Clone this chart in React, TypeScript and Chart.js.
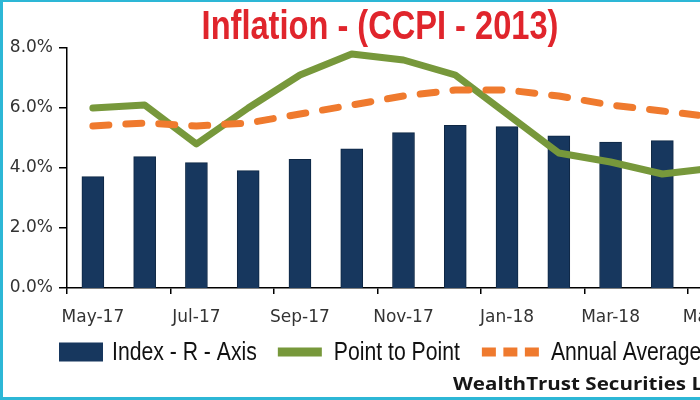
import React, { useEffect, useRef } from 'react';
import { Chart, registerables } from 'chart.js';

Chart.register(...registerables);

// ---- data ----
const categories = [
  'May-17', 'Jun-17', 'Jul-17', 'Aug-17', 'Sep-17', 'Oct-17', 'Nov-17',
  'Dec-17', 'Jan-18', 'Feb-18', 'Mar-18', 'Apr-18', 'May-18',
];
const indexValues = [3.71, 4.38, 4.18, 3.91, 4.29, 4.64, 5.18, 5.42, 5.38, 5.07, 4.86, 4.91, null];
const pointToPoint = [6.0, 6.1, 4.8, 6.0, 7.1, 7.8, 7.6, 7.1, 5.8, 4.5, 4.2, 3.8, 4.0];
const annualAverage = [5.4, 5.5, 5.4, 5.5, 5.8, 6.1, 6.4, 6.6, 6.6, 6.4, 6.1, 5.9, 5.7];
const yTickValues = [0, 2, 4, 6, 8];

const TITLE = 'Inflation - (CCPI - 2013)';
const SERIES_NAMES = ['Index - R - Axis', 'Point to Point', 'Annual Average'];
const SOURCE = 'WealthTrust Securities Limited';

// ---- styles ----
const NAVY = '#17375E';
const NAVY_EDGE = '#0E2744';
const GREEN = '#77983B';
const ORANGE = '#EF7A2E';
const RED = '#E0252C';
const CYAN = '#2DB7D6';
const CW = 760;
const CH = 400;
const SANS = "'Liberation Sans', Arial, sans-serif";
const TICK_FONT = "'DejaVu Sans', Verdana, sans-serif";
const NARROW_X = 0.815;

function scaledText(
  ctx: CanvasRenderingContext2D,
  text: string,
  x: number,
  y: number,
  sx: number,
  align: 'left' | 'center',
) {
  const w = ctx.measureText(text).width * sx;
  const left = align === 'center' ? x - w / 2 : x;
  ctx.save();
  ctx.translate(left, y);
  ctx.scale(sx, 1);
  ctx.textAlign = 'left';
  ctx.fillText(text, 0, 0);
  ctx.restore();
  return w;
}

const decorPlugin = {
  id: 'decor',
  afterDraw(chart: any) {
    const ctx = chart.ctx as CanvasRenderingContext2D;
    ctx.save();
    // title
    ctx.font = `bold 40px ${SANS}`;
    ctx.fillStyle = RED;
    ctx.textBaseline = 'alphabetic';
    scaledText(ctx, TITLE, CW / 2, 39, NARROW_X, 'center');

    // legend
    ctx.font = `26px ${SANS}`;
    ctx.textBaseline = 'middle';
    const cy = 352;
    let x = 59;
    const symWidths = [44, 44, 58];
    for (let i = 0; i < SERIES_NAMES.length; i++) {
      const symW = symWidths[i];
      if (i === 0) {
        ctx.fillStyle = NAVY;
        ctx.fillRect(x, cy - 9.5, symW, 19);
      } else if (i === 1) {
        ctx.fillStyle = GREEN;
        ctx.fillRect(x, cy - 4.5, symW, 9);
      } else {
        ctx.fillStyle = ORANGE;
        for (let k = 0; k < 3; k++) {
          ctx.fillRect(x + 1 + k * 21.5, cy - 4.5, 14, 9);
        }
      }
      x += symW + (i === 0 ? 9 : 12);
      ctx.fillStyle = '#111111';
      const w = scaledText(ctx, SERIES_NAMES[i], x, cy + 1, NARROW_X, 'left');
      x += w + 21;
    }

    // source
    ctx.font = `bold 18px 'Open Sans', Lato, sans-serif`;
    ctx.fillStyle = '#161616';
    ctx.textBaseline = 'alphabetic';
    const partW = ctx.measureText('WealthTrust Securities L').width;
    scaledText(ctx, SOURCE, 453, 390, 250 / partW, 'left');
    ctx.restore();
  },
};

export default function App() {
  const ref = useRef<HTMLCanvasElement | null>(null);

  useEffect(() => {
    if (!ref.current) return;
    const chart = new Chart(ref.current, {
      type: 'bar',
      data: {
        labels: categories,
        datasets: [
          {
            type: 'bar',
            label: SERIES_NAMES[0],
            data: indexValues,
            backgroundColor: NAVY,
            borderColor: NAVY_EDGE,
            borderWidth: 1,
            barThickness: 22,
            yAxisID: 'yR',
            order: 3,
          } as any,
          {
            type: 'line',
            label: SERIES_NAMES[1],
            data: pointToPoint,
            borderColor: GREEN,
            backgroundColor: GREEN,
            borderWidth: 7,
            borderJoinStyle: 'round',
            borderCapStyle: 'round',
            pointRadius: 0,
            tension: 0,
            yAxisID: 'y',
            order: 2,
          },
          {
            type: 'line',
            label: SERIES_NAMES[2],
            data: annualAverage,
            borderColor: ORANGE,
            backgroundColor: ORANGE,
            borderWidth: 7,
            borderDash: [16, 17],
            borderCapStyle: 'round',
            borderJoinStyle: 'round',
            pointRadius: 0,
            tension: 0,
            yAxisID: 'y',
            order: 1,
          },
        ],
      },
      options: {
        responsive: false,
        animation: false,
        devicePixelRatio: 1,
        layout: { padding: { left: 0, top: 48, right: 20, bottom: 72 } },
        plugins: {
          legend: { display: false },
          title: { display: false },
          tooltip: { enabled: false },
        },
        scales: {
          x: {
            type: 'category',
            offset: true,
            afterFit: (s: any) => { s.height = 40; },
            grid: {
              offset: true,
              drawOnChartArea: false,
              drawTicks: true,
              tickLength: 6,
              lineWidth: 1.5,
              color: (c: any) => (c.index % 2 === 0 ? '#000000' : 'rgba(0,0,0,0)'),
            },
            border: { display: true, color: '#000000', width: 1.5 },
            ticks: {
              autoSkip: false,
              maxRotation: 0,
              minRotation: 0,
              padding: 13,
              color: '#333333',
              font: { family: TICK_FONT, size: 17 },
              callback: (_v: any, i: number) => (i % 2 === 0 ? categories[i] : ''),
            },
          },
          y: {
            type: 'linear',
            position: 'left',
            min: 0,
            max: 8,
            afterFit: (s: any) => { s.width = 67; },
            afterBuildTicks: (s: any) => { s.ticks = yTickValues.map((v) => ({ value: v })); },
            grid: {
              drawOnChartArea: false,
              drawTicks: true,
              tickLength: 8,
              lineWidth: 1.5,
              color: '#000000',
            },
            border: { display: true, color: '#000000', width: 1.5 },
            ticks: {
              padding: 6,
              color: '#333333',
              font: { family: TICK_FONT, size: 17 },
              callback: (v: any) => `${Number(v).toFixed(1)}%`,
            },
          },
          yR: {
            type: 'linear',
            position: 'right',
            display: false,
            min: 0,
            max: 8,
          },
        },
      },
      plugins: [decorPlugin],
    } as any);
    return () => chart.destroy();
  }, []);

  return (
    <div
      style={{
        position: 'absolute',
        left: 0,
        top: 0,
        width: 700,
        height: 400,
        overflow: 'hidden',
        background: '#ffffff',
      }}
    >
      <canvas ref={ref} width={CW} height={CH} style={{ width: CW, height: CH, display: 'block' }} />
      <div
        style={{
          position: 'absolute',
          left: 0,
          top: 0,
          width: 700,
          height: 400,
          boxSizing: 'border-box',
          borderTop: `2px solid ${CYAN}`,
          borderLeft: `3px solid ${CYAN}`,
          borderBottom: `3px solid ${CYAN}`,
          pointerEvents: 'none',
        }}
      />
    </div>
  );
}
